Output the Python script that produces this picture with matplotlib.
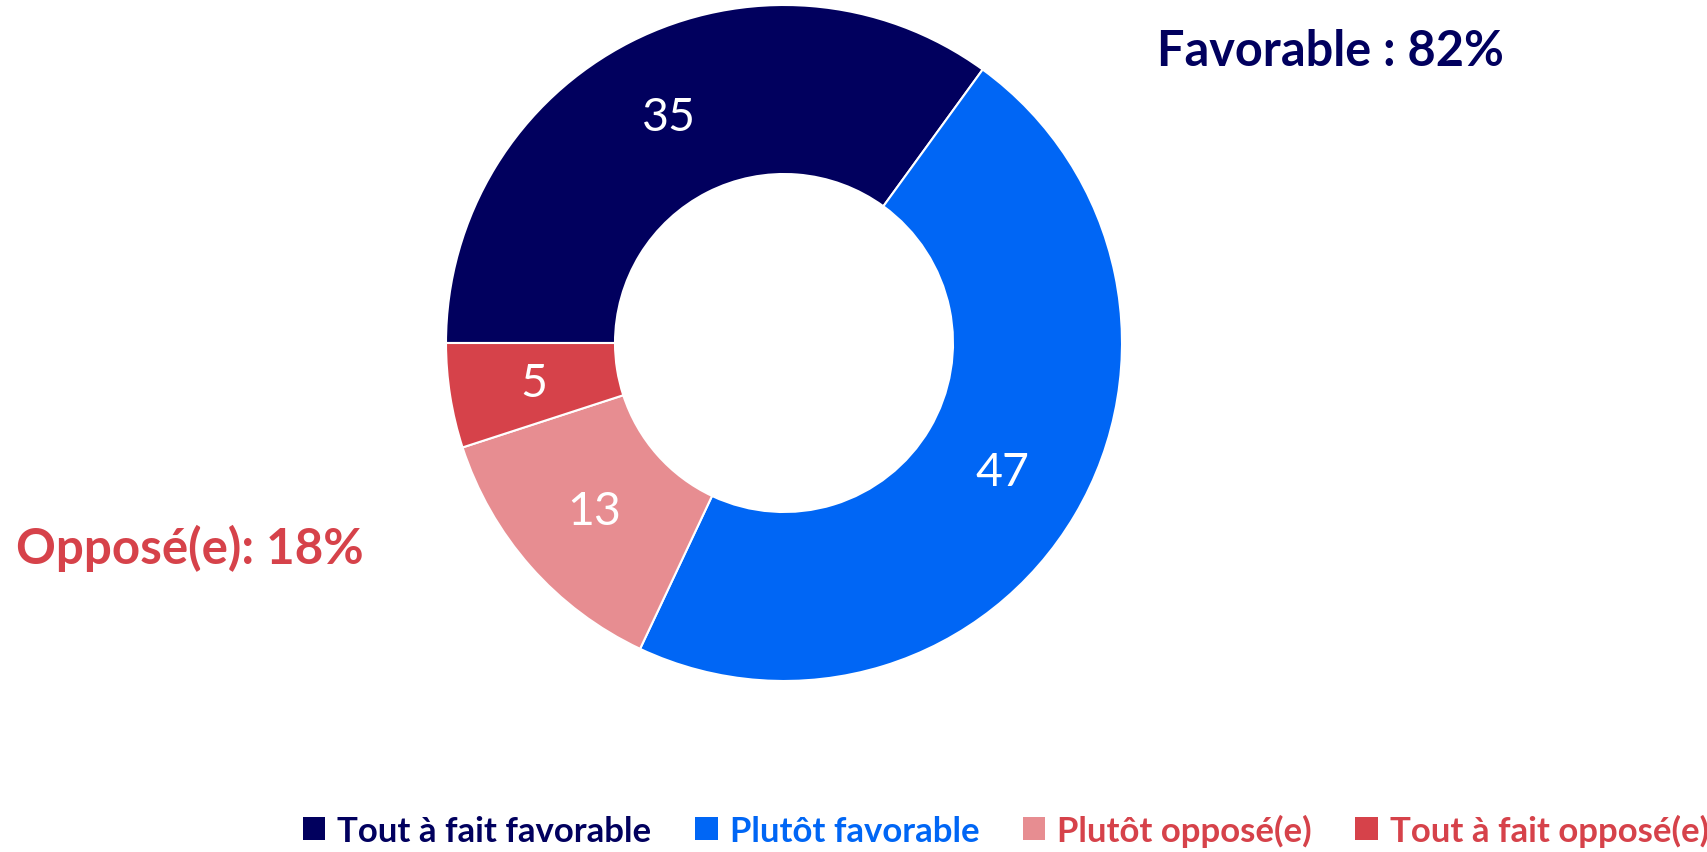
import matplotlib
matplotlib.use("Agg")
import matplotlib.pyplot as plt
from matplotlib.patches import Patch

categories = ["Tout à fait favorable", "Plutôt favorable", "Plutôt opposé(e)", "Tout à fait opposé(e)"]
values = [35, 47, 13, 5]
colors = ["#01005E", "#0066F5", "#E78D91", "#D6424A"]
legend_text_colors = ["#01005E", "#0066F5", "#D6424A", "#D6424A"]
favorable_label = "Favorable : 82%"
oppose_label = "Opposé(e): 18%"

plt.rcParams['font.family'] = ['Lato', 'DejaVu Sans']

W, H = 1708, 853
fig = plt.figure(figsize=(W / 100, H / 100), dpi=100)
cx, cy, R = 784, 344, 338
ax = fig.add_axes([(cx - R) / W, (H - cy - R) / H, 2 * R / W, 2 * R / H])
wedges, texts = ax.pie(values, colors=colors, startangle=180, counterclock=False,
                       radius=1.0, labels=[str(v) for v in values], labeldistance=0.75,
                       wedgeprops=dict(width=0.5, edgecolor="white", linewidth=1.5),
                       textprops=dict(color="white", fontsize=33.5))
for t in texts:
    t.set_horizontalalignment("center")
    t.set_verticalalignment("center")
ax.set_xlim(-1, 1)
ax.set_ylim(-1, 1)
ax.set_aspect("equal")
ax.axis("off")

fig.text(1330 / W, 1 - 52 / H, favorable_label, color=colors[0], fontsize=35,
         fontweight="bold", ha="center", va="center")
fig.text(190 / W, 1 - 548 / H, oppose_label, color=colors[3], fontsize=35.5,
         fontweight="bold", ha="center", va="center")

handles = [Patch(facecolor=c, edgecolor="none") for c in colors]
leg = fig.legend(handles, categories, loc="center", bbox_to_anchor=(1006 / W, 1 - 831 / H),
                 ncol=4, frameon=False, handlelength=0.65, handleheight=0.65,
                 handletextpad=0.35, columnspacing=1.25,
                 prop=dict(family=['Lato', 'DejaVu Sans'], weight="bold", size=25))
for txt, c in zip(leg.get_texts(), legend_text_colors):
    txt.set_color(c)

fig.savefig("out.png", dpi=100, facecolor="white")
